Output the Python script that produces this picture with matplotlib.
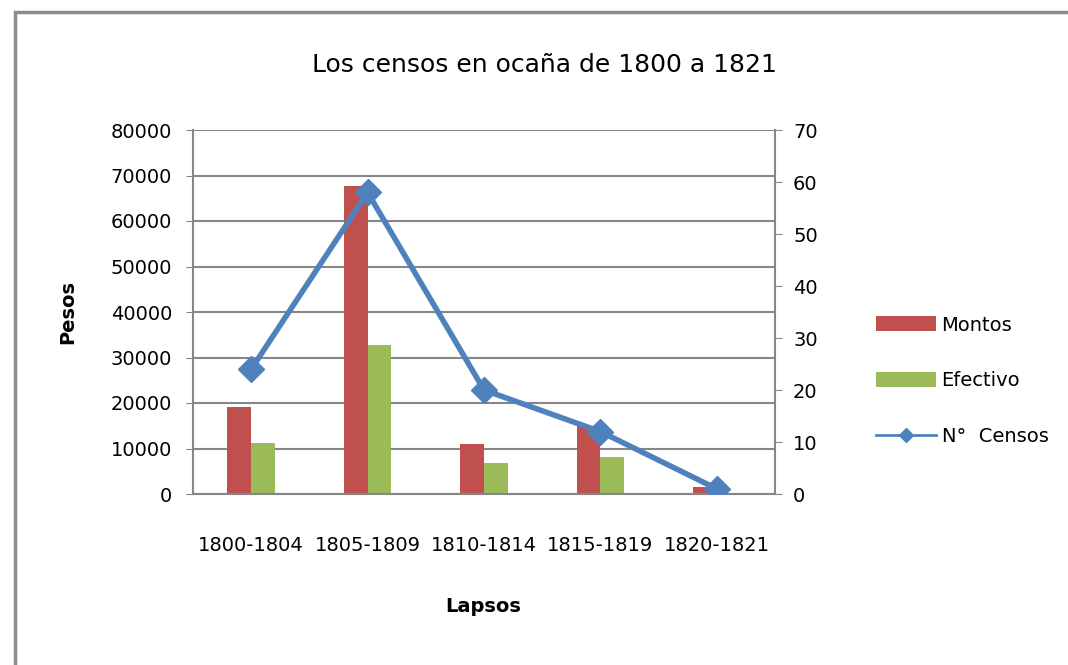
import matplotlib.pyplot as plt
from matplotlib.patches import Rectangle
from matplotlib.lines import Line2D
import numpy as np

# data
lapsos = ["1800-1804", "1805-1809", "1810-1814", "1815-1819", "1820-1821"]
montos = [19100, 67700, 11000, 15000, 1500]
efectivo = [11200, 32700, 6800, 8100, 0]
n_censos = [24, 58, 20, 12, 1]

red = "#C0504D"
green = "#9BBB59"
blue = "#4F81BD"
grid_gray = "#868686"

fig = plt.figure(figsize=(10.68, 6.65), dpi=100)
ax = fig.add_axes([193 / 1068, 1 - 494 / 665, 582 / 1068, 364 / 665])

# outer chart border (clipped at right and bottom like the screenshot)
fig.patches.append(Rectangle((15 / 1068, -0.1), 1.2, 1 - 12 / 665 + 0.1,
                             transform=fig.transFigure, fill=False,
                             edgecolor="#8c8c8c", linewidth=2.5))

x = np.arange(len(lapsos))
w = 0.205
ax.bar(x - w / 2, montos, w, color=red, label="Montos", zorder=2)
ax.bar(x + w / 2, efectivo, w, color=green, label="Efectivo", zorder=2)

ax.set_xlim(-0.5, len(lapsos) - 0.5)
ax.set_ylim(0, 80000)
ax.set_yticks(range(0, 80001, 10000))
ax.set_xticks(x)
ax.set_xticklabels(lapsos, fontsize=14)
ax.tick_params(axis="y", labelsize=14, length=5, color=grid_gray, pad=10)
ax.tick_params(axis="x", length=0, pad=30)
ax.yaxis.grid(True, color=grid_gray, linewidth=1.5, zorder=0)
ax.set_axisbelow(True)
for side in ["top", "right"]:
    ax.spines[side].set_visible(False)
for side in ["left", "bottom"]:
    ax.spines[side].set_color(grid_gray)
    ax.spines[side].set_linewidth(1.5)

ax2 = ax.twinx()
ax2.plot(x, n_censos, color=blue, linewidth=4, marker="D", markersize=13,
         zorder=3)
ax2.set_ylim(0, 70)
ax2.set_yticks(range(0, 71, 10))
ax2.tick_params(axis="y", labelsize=14, length=5, color=grid_gray, pad=8)
for side in ["top", "left", "bottom"]:
    ax2.spines[side].set_visible(False)
ax2.spines["right"].set_color(grid_gray)
ax2.spines["right"].set_linewidth(1.5)

fig.text(0.51, 1 - 65 / 665, "Los censos en ocaña de 1800 a 1821",
         ha="center", va="center", fontsize=18)
fig.text(68 / 1068, 1 - 312 / 665, "Pesos", rotation=90, ha="center",
         va="center", fontsize=14, fontweight="bold")
fig.text(483 / 1068, 1 - 607 / 665, "Lapsos", ha="center", va="center",
         fontsize=14, fontweight="bold")

h1, l1 = ax.get_legend_handles_labels()
line_handle = Line2D([], [], color=blue, linewidth=2, marker="D", markersize=7)
fig.legend(h1 + [line_handle], l1 + ["N°  Censos"], loc="center left",
           bbox_to_anchor=(858 / 1068, 1 - 381 / 665), frameon=False,
           fontsize=14, handlelength=3.1, handleheight=0.8,
           labelspacing=1.9, handletextpad=0.3)

fig.savefig("out.png", dpi=100)
